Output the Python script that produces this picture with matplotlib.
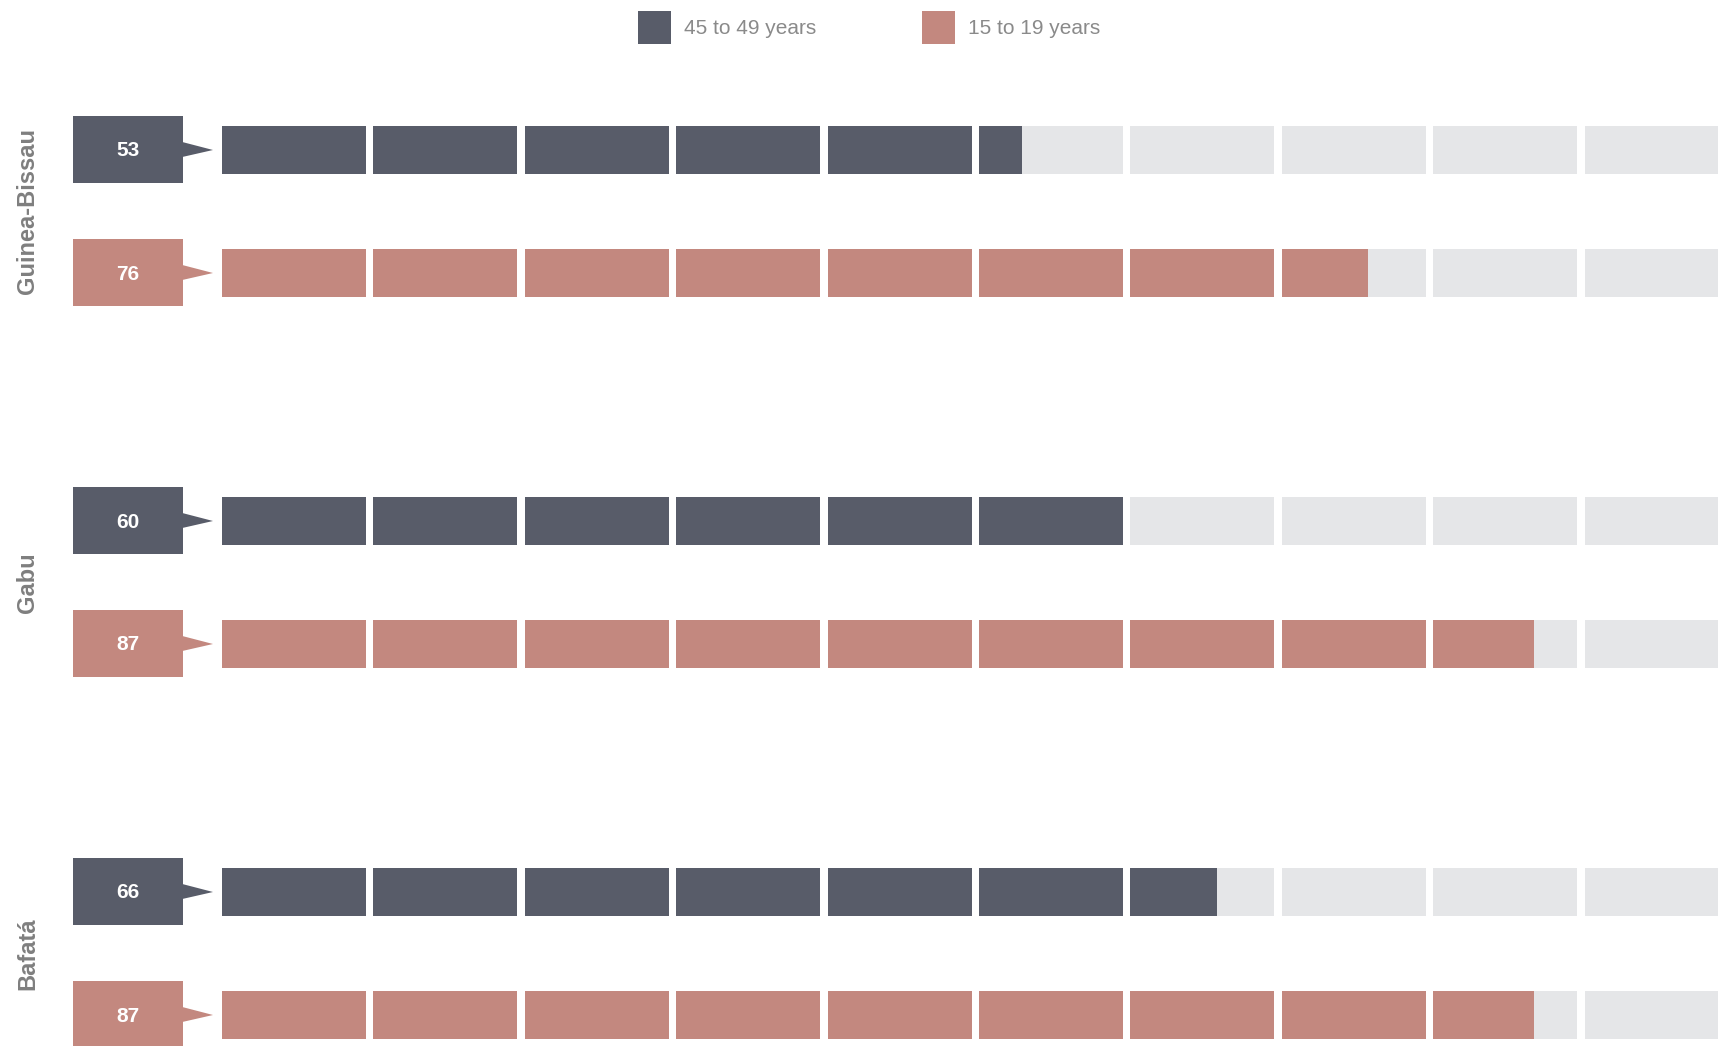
import matplotlib
matplotlib.use("Agg")
import matplotlib.pyplot as plt
from matplotlib.patches import Rectangle, Polygon

# ---------------- data ----------------
regions = ["Guinea-Bissau", "Gabu", "Bafatá"]
series = ["45 to 49 years", "15 to 19 years"]
values_45_49 = [53, 60, 66]
values_15_19 = [76, 87, 87]

# ---------------- style ----------------
DARK = "#585c69"
PINK = "#c3887f"
LIGHT = "#e5e6e8"
GREY_TXT = "#7f7f7f"
LEG_TXT = "#8a8a8a"
colors = [DARK, PINK]
FONT = ["Liberation Sans", "DejaVu Sans"]

W_PX, H_PX = 1718, 1046
fig = plt.figure(figsize=(W_PX / 100, H_PX / 100), dpi=100)
ax = fig.add_axes([0, 0, 1, 1])
ax.axis("off")

# layout: 10 segments, each worth 10 units
n_seg = 10
unit = 10.0
period_px = 151.4
seg_px = 144.0
x0_px = 222.0
px_per_unit = period_px / unit
seg_w = seg_px / px_per_unit  # width of one segment in value units

xmin = -x0_px / px_per_unit
xmax = (W_PX - x0_px) / px_per_unit
ax.set_xlim(xmin, xmax)
ax.set_ylim(H_PX, 0)


def px2u(px):
    return (px - x0_px) / px_per_unit


group_start = 150
group_step = 371
row_step = 123
bar_h = 48
box_h = 67
box_l, box_r, tip = px2u(73), px2u(183), px2u(213)

for g, region in enumerate(regions):
    vals = [values_45_49[g], values_15_19[g]]
    centers = [group_start + g * group_step + r * row_step for r in range(2)]
    for r, (v, c, col) in enumerate(zip(vals, centers, colors)):
        # background segments
        for k in range(n_seg):
            left = k * unit
            ax.barh(c, seg_w, left=left, height=bar_h, color=LIGHT, linewidth=0)
            filled = min(max(v - k * unit, 0), unit) / unit
            if filled > 0:
                ax.barh(c, seg_w * filled, left=left, height=bar_h, color=col, linewidth=0)
        # label box with pointer
        ax.add_patch(Rectangle((box_l, c - box_h / 2 - 1), box_r - box_l, box_h,
                               facecolor=col, edgecolor="none"))
        ax.add_patch(Polygon([(box_r - 0.05, c - 8), (tip, c), (box_r - 0.05, c + 7)],
                             closed=True, facecolor=col, edgecolor="none"))
        ax.text((box_l + box_r) / 2, c + 1, f"{v}", color="white", fontsize=15,
                fontweight="bold", ha="center", va="center", family=FONT)
    ax.text(px2u(28), (centers[0] + centers[1]) / 2, region, rotation=90,
            color=GREY_TXT, fontsize=17, fontweight="bold", ha="center",
            va="center", family=FONT)

# legend
leg_x = [638, 922]
for lx, name, col in zip(leg_x, series, colors):
    ax.add_patch(Rectangle((px2u(lx), 11), 33 / px_per_unit, 33,
                           facecolor=col, edgecolor="none"))
    ax.text(px2u(lx + 46), 29, name, color=LEG_TXT, fontsize=15,
            ha="left", va="center", family=FONT)

fig.savefig("out.png", dpi=100, facecolor="white")
